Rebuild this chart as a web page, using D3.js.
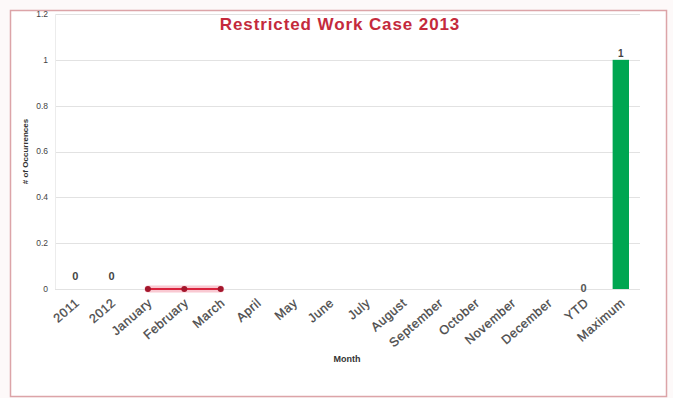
<!DOCTYPE html>
<html>
<head>
<meta charset="utf-8">
<script src="https://cdn.jsdelivr.net/npm/d3@7"></script>
<style>
  html, body { margin: 0; padding: 0; background: #fdf9f9; }
  svg { display: block; }
  text { font-family: "Liberation Sans", Arial, sans-serif; }
</style>
</head>
<body>
<svg id="chart" width="673" height="398"></svg>
<script>
// Categories along the x axis
const categories = ["2011", "2012", "January", "February", "March", "April", "May",
  "June", "July", "August", "September", "October", "November", "December", "YTD", "Maximum"];

// Prior years' totals
const yearCats = ["2011", "2012"];
const yearValues = [0, 0];

// Monthly cases reported so far in 2013
const monthCats = ["January", "February", "March"];
const monthValues = [0, 0, 0];

// Year to date total
const ytdCats = ["YTD"];
const ytdValues = [0];

// Maximum
const maxCats = ["Maximum"];
const maxValues = [1];

// Y axis ticks
const yTicks = [0, 0.2, 0.4, 0.6, 0.8, 1, 1.2];
const yTickLabels = ["0", "0.2", "0.4", "0.6", "0.8", "1", "1.2"];

const svg = d3.select("#chart");
const W = 673, H = 398;
const margin = { left: 57, right: 34, top: 14, bottom: 109 };
const plotW = W - margin.left - margin.right;
const plotH = H - margin.top - margin.bottom;

// Outer frame
svg.append("rect")
  .attr("x", 10.5).attr("y", 10.5)
  .attr("width", 656).attr("height", 386)
  .attr("fill", "#ffffff")
  .attr("stroke", "#dca4a8").attr("stroke-width", 1.5);

const x = d3.scaleBand().domain(categories)
  .range([margin.left, margin.left + plotW])
  .paddingInner(0.55).paddingOuter(0.275);
const y = d3.scaleLinear().domain([0, 1.2]).range([margin.top + plotH, margin.top]);

// Gridlines
svg.append("g")
  .selectAll("line")
  .data(yTicks)
  .join("line")
  .attr("x1", margin.left - 2).attr("x2", margin.left + plotW + 1)
  .attr("y1", d => Math.round(y(d)) + 0.5).attr("y2", d => Math.round(y(d)) + 0.5)
  .attr("stroke", "#e2e2e2").attr("stroke-width", 1);

// Y axis line
svg.append("line")
  .attr("x1", margin.left - 1.5).attr("x2", margin.left - 1.5)
  .attr("y1", margin.top).attr("y2", margin.top + plotH)
  .attr("stroke", "#ececec");

// Y axis tick labels
svg.append("g")
  .selectAll("text")
  .data(yTicks)
  .join("text")
  .attr("x", margin.left - 9)
  .attr("y", d => y(d))
  .attr("dy", "0.35em")
  .attr("text-anchor", "end")
  .attr("font-size", 8.5)
  .attr("fill", "#444")
  .text((d, i) => yTickLabels[i]);

// X axis labels, rotated
svg.append("g")
  .selectAll("text")
  .data(categories)
  .join("text")
  .attr("transform", d => {
    const cx = x(d) + x.bandwidth() / 2 + 5;
    return `translate(${cx},${margin.top + plotH + 15}) rotate(-41)`;
  })
  .attr("text-anchor", "end")
  .attr("font-size", 12.5)
  .attr("letter-spacing", 0.6)
  .attr("fill", "#4a4a4a")
  .attr("stroke", "#4a4a4a")
  .attr("stroke-width", 0.3)
  .text(d => d);

// Axis titles
svg.append("text")
  .attr("x", 347)
  .attr("y", 362)
  .attr("text-anchor", "middle")
  .attr("font-size", 9)
  .attr("font-weight", "bold")
  .attr("fill", "#333")
  .text("Month");

svg.append("text")
  .attr("transform", `translate(28,${margin.top + plotH / 2}) rotate(-90)`)
  .attr("text-anchor", "middle")
  .attr("font-size", 8)
  .attr("font-weight", "bold")
  .attr("fill", "#333")
  .text("# of Occurrences");

// Title
svg.append("text")
  .attr("x", 340)
  .attr("y", 30)
  .attr("text-anchor", "middle")
  .attr("font-size", 17)
  .attr("letter-spacing", 0.9)
  .attr("font-weight", "bold")
  .attr("fill", "#c42a3c")
  .text("Restricted Work Case 2013");

const cx = d => x(d) + x.bandwidth() / 2;

// Prior-year bars (zero height) and their labels
const yearData = yearCats.map((c, i) => ({ c, v: yearValues[i] }));
svg.append("g").selectAll("rect").data(yearData).join("rect")
  .attr("x", d => x(d.c)).attr("width", x.bandwidth())
  .attr("y", d => y(d.v)).attr("height", d => y(0) - y(d.v))
  .attr("fill", "#7f7f7f");
svg.append("g").selectAll("text").data(yearData).join("text")
  .attr("x", d => cx(d.c)).attr("y", d => y(d.v) - 9)
  .attr("text-anchor", "middle")
  .attr("font-size", 11).attr("font-weight", "bold").attr("fill", "#444")
  .text(d => d.v);

// Monthly line with markers
const monthData = monthCats.map((c, i) => ({ c, v: monthValues[i] }));
const line = d3.line().x(d => cx(d.c)).y(d => y(d.v));
svg.append("path").datum(monthData)
  .attr("d", line).attr("fill", "none")
  .attr("stroke", "#f7b2bf").attr("stroke-width", 7)
  .attr("stroke-linecap", "round").attr("opacity", 0.7);
svg.append("path").datum(monthData)
  .attr("d", line).attr("fill", "none")
  .attr("stroke", "#d9233d").attr("stroke-width", 2);
svg.append("g").selectAll("circle").data(monthData).join("circle")
  .attr("cx", d => cx(d.c)).attr("cy", d => y(d.v)).attr("r", 3)
  .attr("fill", "#a3162c");

// YTD label
const ytdData = ytdCats.map((c, i) => ({ c, v: ytdValues[i] }));
svg.append("g").selectAll("text").data(ytdData).join("text")
  .attr("x", d => cx(d.c) - 1).attr("y", d => y(d.v) + 3)
  .attr("text-anchor", "middle")
  .attr("font-size", 11).attr("font-weight", "bold").attr("fill", "#555")
  .text(d => d.v);

// Maximum bar and label
const maxData = maxCats.map((c, i) => ({ c, v: maxValues[i] }));
svg.append("g").selectAll("rect").data(maxData).join("rect")
  .attr("x", d => x(d.c)).attr("width", x.bandwidth())
  .attr("y", d => y(d.v)).attr("height", d => y(0) - y(d.v))
  .attr("fill", "#00a651");
svg.append("g").selectAll("text").data(maxData).join("text")
  .attr("x", d => cx(d.c)).attr("y", d => y(d.v) - 3)
  .attr("text-anchor", "middle")
  .attr("font-size", 10).attr("font-weight", "bold").attr("fill", "#444")
  .text(d => d.v);
</script>
</body>
</html>
